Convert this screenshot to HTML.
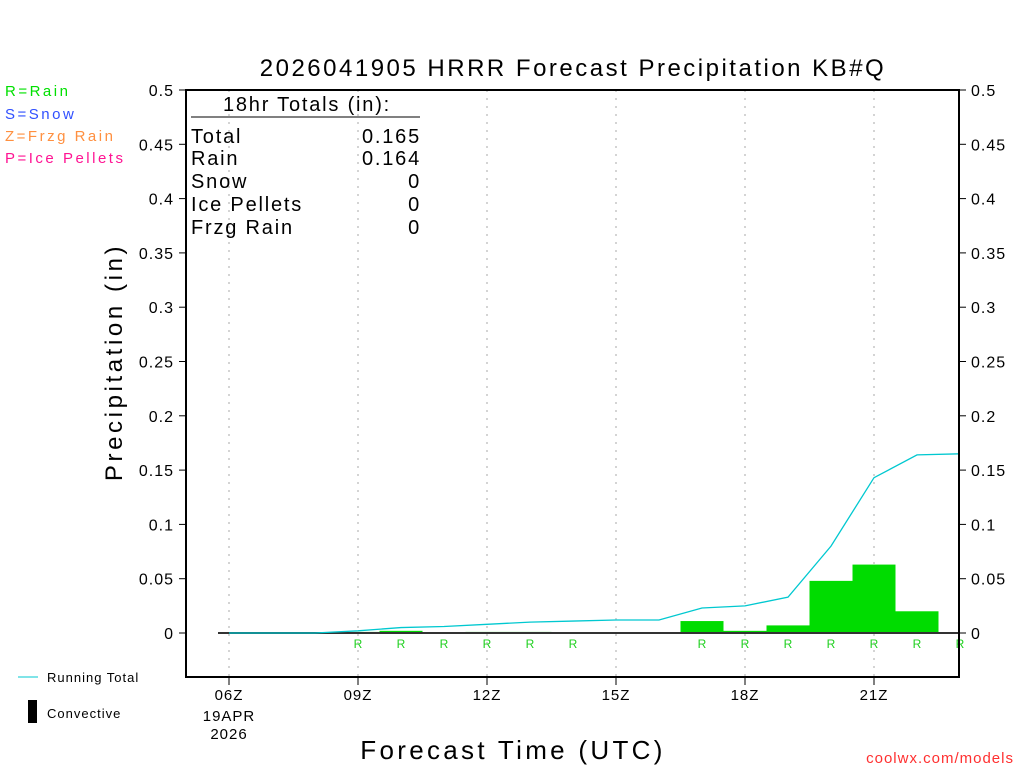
<!DOCTYPE html>
<html><head><meta charset="utf-8"><style>
body{margin:0;background:#fff;}
svg text{font-family:"Liberation Sans",sans-serif;}
</style></head><body>
<svg id="c" width="1024" height="768" xmlns="http://www.w3.org/2000/svg">
<text x="573" y="76" font-size="24" text-anchor="middle" letter-spacing="2.5" fill="#000">2026041905 HRRR Forecast Precipitation KB#Q</text>
<g font-size="15" letter-spacing="2.5">
<text x="5" y="96" fill="#00e000">R=Rain</text>
<text x="5" y="119" fill="#3050ff">S=Snow</text>
<text x="5" y="141" fill="#ff9040">Z=Frzg Rain</text>
<text x="5" y="163" fill="#ff1493">P=Ice Pellets</text>
</g>
<text transform="translate(122,362) rotate(-90)" font-size="24" text-anchor="middle" letter-spacing="3.6" fill="#000">Precipitation (in)</text>
<text x="513" y="759" font-size="26" text-anchor="middle" letter-spacing="3.3" fill="#000">Forecast Time (UTC)</text>
<text x="1014" y="763" font-size="15" text-anchor="end" letter-spacing="1" fill="#ff3030">coolwx.com/models</text>
<g>
<line x1="18" y1="677" x2="38" y2="677" stroke="#00c8d0" stroke-width="1"/>
<text x="47" y="682" font-size="13" letter-spacing="1">Running Total</text>
<rect x="28" y="700" width="9" height="23" fill="#000"/>
<text x="47" y="718" font-size="13" letter-spacing="1">Convective</text>
</g>
<g id="plot"></g>
<g font-size="20" letter-spacing="1.8" fill="#000">
<text x="307" y="111" text-anchor="middle">18hr Totals (in):</text>
<line x1="191" y1="117" x2="420" y2="117" stroke="#000"/>
<text x="191" y="143">Total</text><text x="421" y="143" text-anchor="end">0.165</text>
<text x="191" y="165">Rain</text><text x="421" y="165" text-anchor="end">0.164</text>
<text x="191" y="188">Snow</text><text x="421" y="188" text-anchor="end">0</text>
<text x="191" y="211">Ice Pellets</text><text x="421" y="211" text-anchor="end">0</text>
<text x="191" y="234">Frzg Rain</text><text x="421" y="234" text-anchor="end">0</text>
</g>
</svg>
<script>
const hours=[6,7,8,9,10,11,12,13,14,15,16,17,18,19,20,21,22,23];
const hourly=[0,0,0,0.001,0.002,0.0005,0.001,0.001,0.0005,0,0,0.011,0.002,0.007,0.048,0.063,0.020,0.0005];
const runningTotal=[0,0,0,0.002,0.005,0.006,0.008,0.010,0.011,0.012,0.012,0.023,0.025,0.033,0.080,0.143,0.164,0.165];
const ptype=["","","","R","R","R","R","R","R","","","R","R","R","R","R","R","R"];
const yTicks=[0,0.05,0.1,0.15,0.2,0.25,0.3,0.35,0.4,0.45,0.5];
const yTickLabels=["0","0.05","0.1","0.15","0.2","0.25","0.3","0.35","0.4","0.45","0.5"];
const xTicks=[6,9,12,15,18,21];
const xTickLabels=["06Z","09Z","12Z","15Z","18Z","21Z"];
const NS="http://www.w3.org/2000/svg";
const L=186,R=959,T=90,B=677;
const xs=h=>229+(h-6)*43;
const ys=v=>633-v*1086;
const g=document.getElementById('plot');
function mk(t,a){const e=document.createElementNS(NS,t);for(const k in a)e.setAttribute(k,a[k]);g.appendChild(e);return e;}
xTicks.forEach((h,i)=>{
  const l=mk('line',{x1:xs(h),x2:xs(h),y1:T,y2:B,stroke:'#aaa','stroke-dasharray':'2,6'});
  
  
  const tk=mk('line',{x1:xs(h),x2:xs(h),y1:B,y2:B+8,stroke:'#000'});
  
  
  const t=mk('text',{x:xs(h),y:B+23,'font-size':15,'text-anchor':'middle','letter-spacing':1});
  t.textContent=xTickLabels[i];
  
  
});
[['19APR',721],['2026',739]].forEach(d=>{const t=mk('text',{x:xs(6),y:d[1],'font-size':15,'text-anchor':'middle','letter-spacing':1});t.textContent=d[0];

});
yTicks.forEach((v,i)=>{
  [[L-7,L,L-12,'end'],[R,R+7,R+12,'start']].forEach(s=>{
    const tk=mk('line',{x1:s[0],x2:s[1],y1:ys(v),y2:ys(v),stroke:'#000'});
    
    
    const t=mk('text',{x:s[2],y:ys(v)+6,'font-size':16,'text-anchor':s[3],'letter-spacing':1});
    t.textContent=yTickLabels[i];
    
    
  });
});
hours.forEach((h,i)=>{
  if(hourly[i]>0){
    const x0=xs(h)-21.5, x1=Math.min(xs(h)+21.5,R);
    const b=mk('rect',{x:x0,y:ys(hourly[i]),width:x1-x0,height:ys(0)-ys(hourly[i]),fill:'#00dc00'});
    
    
  }
  if(ptype[i]){
    const t=mk('text',{x:xs(h),y:648,'font-size':12,'text-anchor':'middle',fill:'#20d020'});
    t.textContent=ptype[i];
    
    
  }
});
const zl=mk('line',{x1:218,x2:R,y1:ys(0),y2:ys(0),stroke:'#333','stroke-width':2});


const pl=mk('polyline',{points:hours.map((h,i)=>xs(h)+','+ys(runningTotal[i])).join(' '),fill:'none',stroke:'#00c8d0','stroke-width':1.3});


const fr=mk('rect',{x:L,y:T,width:R-L,height:B-T,fill:'none',stroke:'#000','stroke-width':2});


</script>
</body></html>
